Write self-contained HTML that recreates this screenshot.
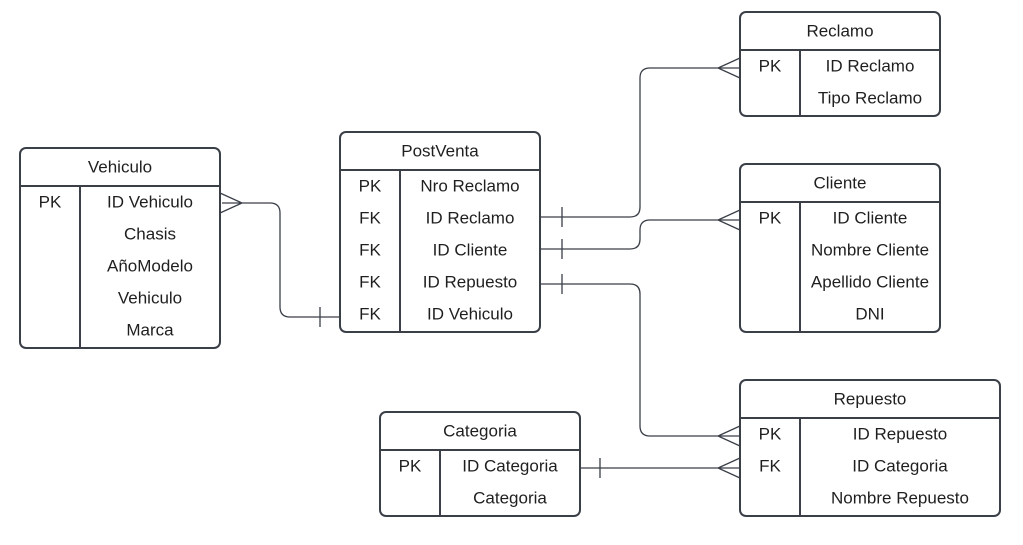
<!DOCTYPE html>
<html><head><meta charset="utf-8"><style>
html,body{margin:0;padding:0;background:#fff;}
svg text{font-family:"Liberation Sans",sans-serif;font-size:17px;fill:#1f1f1f;text-anchor:middle;dominant-baseline:central;}
</style></head><body>
<svg width="1023" height="540" viewBox="0 0 1023 540" xmlns="http://www.w3.org/2000/svg">
<g fill="none" stroke="#3a3f48" stroke-width="1.3">
<path d="M220 193 L242 203 L220 213 M222 203 L270 203 Q280 203 280 213 L280 307 Q280 317 290 317 L340 317 M320 307 L320 327"/>
<path d="M540 217 L630 217 Q640 217 640 207 L640 78 Q640 68 650 68 L740 68 M740 58 L718 68 L740 78 M562 207 L562 227"/>
<path d="M540 249 L630 249 Q640 249 640 239 L640 230 Q640 220 650 220 L740 220 M740 210 L718 220 L740 230 M562 239 L562 259"/>
<path d="M540 284 L630 284 Q640 284 640 294 L640 426 Q640 436 650 436 L740 436 M740 426 L718 436 L740 446 M562 274 L562 294"/>
<path d="M580 468 L740 468 M740 458 L718 468 L740 478 M600 458 L600 478"/>
</g>
<g fill="#fff" stroke="#3a3f48" stroke-width="2">
<rect x="20" y="148" width="200" height="200" rx="6"/>
<rect x="340" y="132" width="200" height="200" rx="6"/>
<rect x="740" y="12" width="200" height="104" rx="6"/>
<rect x="740" y="164" width="200" height="168" rx="6"/>
<rect x="740" y="380" width="260" height="136" rx="6"/>
<rect x="380" y="412" width="200" height="104" rx="6"/>
</g>
<g stroke="#3a3f48" stroke-width="2">
<line x1="20" y1="186" x2="220" y2="186"/><line x1="80" y1="186" x2="80" y2="348"/>
<line x1="340" y1="170" x2="540" y2="170"/><line x1="400" y1="170" x2="400" y2="332"/>
<line x1="740" y1="50" x2="940" y2="50"/><line x1="800" y1="50" x2="800" y2="116"/>
<line x1="740" y1="202" x2="940" y2="202"/><line x1="800" y1="202" x2="800" y2="332"/>
<line x1="740" y1="418" x2="1000" y2="418"/><line x1="800" y1="418" x2="800" y2="516"/>
<line x1="380" y1="450" x2="580" y2="450"/><line x1="440" y1="450" x2="440" y2="516"/>
</g>
<g transform="translate(0,1)">
<text x="120" y="166">Vehiculo</text>
<text x="50" y="201">PK</text><text x="150" y="201">ID Vehiculo</text>
<text x="150" y="233">Chasis</text><text x="150" y="265">AñoModelo</text>
<text x="150" y="297">Vehiculo</text><text x="150" y="329">Marca</text>
<text x="440" y="150">PostVenta</text>
<text x="370" y="185">PK</text><text x="470" y="185">Nro Reclamo</text>
<text x="370" y="217">FK</text><text x="470" y="217">ID Reclamo</text>
<text x="370" y="249">FK</text><text x="470" y="249">ID Cliente</text>
<text x="370" y="281">FK</text><text x="470" y="281">ID Repuesto</text>
<text x="370" y="313">FK</text><text x="470" y="313">ID Vehiculo</text>
<text x="840" y="30">Reclamo</text>
<text x="770" y="65">PK</text><text x="870" y="65">ID Reclamo</text>
<text x="870" y="97">Tipo Reclamo</text>
<text x="840" y="182">Cliente</text>
<text x="770" y="217">PK</text><text x="870" y="217">ID Cliente</text>
<text x="870" y="249">Nombre Cliente</text>
<text x="870" y="281">Apellido Cliente</text>
<text x="870" y="313">DNI</text>
<text x="870" y="398">Repuesto</text>
<text x="770" y="433">PK</text><text x="900" y="433">ID Repuesto</text>
<text x="770" y="465">FK</text><text x="900" y="465">ID Categoria</text>
<text x="900" y="497">Nombre Repuesto</text>
<text x="480" y="430">Categoria</text>
<text x="410" y="465">PK</text><text x="510" y="465">ID Categoria</text>
<text x="510" y="497">Categoria</text>
</g>
</svg>
</body></html>
